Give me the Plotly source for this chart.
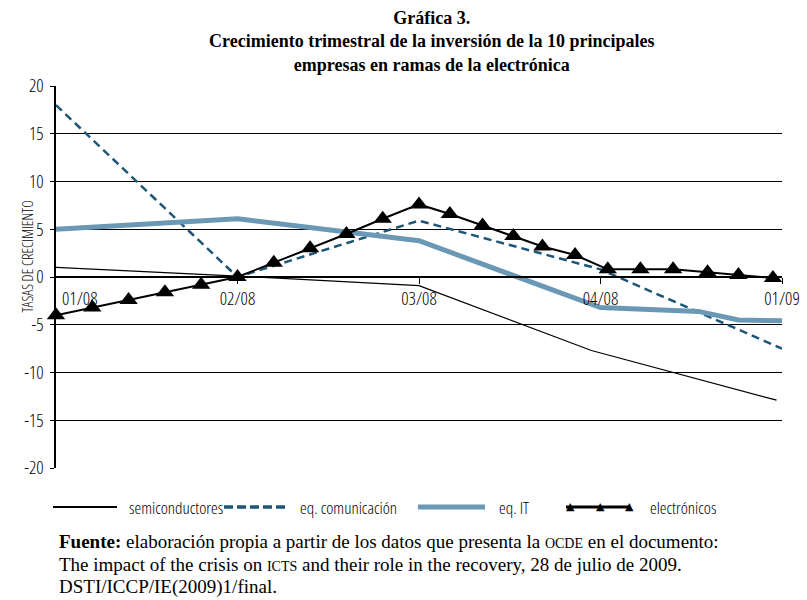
import plotly.graph_objects as go

# quarter positions: 0 = 01/08, 1 = 02/08, 2 = 03/08, 3 = 04/08, 4 = 01/09
quarter_vals = [1, 2, 3, 4]
quarter_labels = ["02/08", "03/08", "04/08", "01/09"]
first_label = "01/08"
y_vals = [-20, -15, -10, -5, 0, 5, 10, 15, 20]

semi_x = [0, 1, 2, 2.95, 3.97]
semi_y = [1.0, 0.1, -0.9, -7.7, -12.9]

comun_x = [0, 1, 2, 3, 4]
comun_y = [18.0, 0.0, 5.9, 0.8, -7.5]

it_x = [0, 1, 2, 3, 3.54, 3.76, 4.02]
it_y = [5.0, 6.1, 3.8, -3.2, -3.6, -4.5, -4.6]

elec_x = [0, 0.2, 0.4, 0.6, 0.8, 1.0, 1.2, 1.4, 1.6, 1.8, 2.0,
          2.17, 2.35, 2.52, 2.68, 2.86, 3.04, 3.22, 3.40, 3.59, 3.76, 3.95]
elec_y = [-4.0, -3.2, -2.4, -1.6, -0.8, 0.0, 1.5, 3.0, 4.5, 6.1, 7.6,
          6.6, 5.4, 4.3, 3.2, 2.3, 0.8, 0.8, 0.8, 0.5, 0.2, -0.1]

source_lines = [
    "<b>Fuente:</b> elaboración propia a partir de los datos que presenta la "
    '<span style="font-size:14px">OCDE</span> en el documento:',
    'The impact of the crisis on <span style="font-size:14px">ICTS</span> '
    "and their role in the recovery, 28 de julio de 2009.",
    "DSTI/ICCP/IE(2009)1/final.",
]

COMUN_COLOR = "#1d5676"
IT_COLOR = "#6b98b4"
SANS = "Open Sans, sans-serif"
SERIF = "Liberation Serif, Times New Roman, serif"

# plot area in pixels (807x600 page)
L, R, T, B = 56, 782, 86, 468


def px(x):
    return (x - L) / (R - L)


def py(y):
    return (B - y) / (B - T)


def cond(text):
    # narrow width of Open Sans for the chart labels
    return '<span style="font-stretch:condensed">' + text + '</span>'


fig = go.Figure()
fig.add_trace(go.Scatter(x=semi_x, y=semi_y, mode="lines", name="semiconductores",
                         line=dict(color="black", width=1.2), cliponaxis=False))
fig.add_trace(go.Scatter(x=comun_x, y=comun_y, mode="lines", name="eq. comunicación",
                         line=dict(color=COMUN_COLOR, width=2.5, dash="8px,5px"), cliponaxis=False))
fig.add_trace(go.Scatter(x=it_x, y=it_y, mode="lines", name="eq. IT",
                         line=dict(color=IT_COLOR, width=5), cliponaxis=False))
fig.add_trace(go.Scatter(x=elec_x, y=elec_y, mode="lines+markers", name="electrónicos",
                         line=dict(color="black", width=2),
                         marker=dict(symbol="triangle-up", size=16, color="black"),
                         cliponaxis=False))

# hand-made key below the chart (long samples, three triangles)
legend_y = py(507)
shapes = [
    dict(type="line", xref="paper", yref="paper", x0=px(53), x1=px(117), y0=legend_y, y1=legend_y,
         line=dict(color="black", width=2)),
    dict(type="line", xref="paper", yref="paper", x0=px(224), x1=px(287), y0=legend_y, y1=legend_y,
         line=dict(color=COMUN_COLOR, width=3.5, dash="9px,4px")),
    dict(type="line", xref="paper", yref="paper", x0=px(418), x1=px(485), y0=legend_y, y1=legend_y,
         line=dict(color=IT_COLOR, width=5)),
    dict(type="line", xref="paper", yref="paper", x0=px(566), x1=px(630), y0=legend_y, y1=legend_y,
         line=dict(color="black", width=3)),
]
annotations = []
for label, xpos in [("semiconductores", 127), ("eq. comunicación", 298),
                    ("eq. IT", 497), ("electrónicos", 648)]:
    annotations.append(dict(text=cond(label), xref="paper", yref="paper", x=px(xpos), y=legend_y,
                            xanchor="left", yanchor="middle", showarrow=False,
                            font=dict(family=SANS, size=17, weight=300, color="black")))
for xpos in [570, 600, 629]:
    annotations.append(dict(text="▲", xref="paper", yref="paper", x=px(xpos), y=legend_y,
                            xanchor="center", yanchor="middle", showarrow=False, yshift=1,
                            font=dict(family="DejaVu Sans", size=11, color="black")))

# title
annotations.append(dict(
    text="<b>Gráfica 3.</b><br><b>Crecimiento trimestral de la inversión de la 10 principales</b>"
         "<br><b>empresas en ramas de la electrónica</b>",
    xref="paper", yref="paper", x=px(432), y=py(6), xanchor="center", yanchor="top",
    showarrow=False, align="center", font=dict(family=SERIF, size=18, color="black")))

# y axis title
annotations.append(dict(text=cond("TASAS DE CRECIMIENTO"), xref="paper", yref="paper",
                        x=px(15), y=py(257), textangle=-90, showarrow=False,
                        font=dict(family=SANS, size=14.5, weight=300, color="black")))

# first quarter label sits to the right of the y axis
annotations.append(dict(text=cond(first_label), xref="x", yref="y", x=0, y=0, xanchor="left",
                        yanchor="top", xshift=4, yshift=-7, showarrow=False,
                        font=dict(family=SANS, size=18, weight=300, color="black")))

# source note, one annotation per line to keep the tight line spacing
for i, line in enumerate(source_lines):
    annotations.append(dict(text=line, xref="paper", yref="paper", x=px(57), y=py(541 + 23 * i),
                            xanchor="left", yanchor="middle", align="left", showarrow=False,
                            font=dict(family=SERIF, size=19, color="black")))

tick_font = dict(family=SANS, size=18, weight=300, color="black")

fig.update_layout(
    width=807, height=600,
    margin=dict(l=L, r=807 - R, t=T, b=600 - B),
    paper_bgcolor="white", plot_bgcolor="white",
    showlegend=False,
    shapes=shapes,
    annotations=annotations,
    xaxis=dict(range=[0, 4], anchor="free", position=0.5, automargin=False,
               tickvals=quarter_vals, ticktext=[cond(t) for t in quarter_labels],
               ticks="outside", ticklen=6, tickcolor="black",
               showline=True, linecolor="black", linewidth=1.5,
               showgrid=False, zeroline=False, tickfont=tick_font),
    yaxis=dict(range=[-20, 20], automargin=False,
               tickvals=y_vals, ticktext=[cond(str(v)) for v in y_vals],
               ticks="outside", ticklen=4, tickcolor="black",
               showline=True, linecolor="black", linewidth=1.5,
               showgrid=True, gridcolor="black", gridwidth=1.3,
               zeroline=True, zerolinecolor="black", zerolinewidth=1.5,
               ticklabelstandoff=3, tickfont=tick_font),
)

# page body has a default 8px margin; drop it so the 807px figure fits the window
fig.write_html("out.html", config={"displayModeBar": False},
               post_script="document.body.style.margin = '0';")
